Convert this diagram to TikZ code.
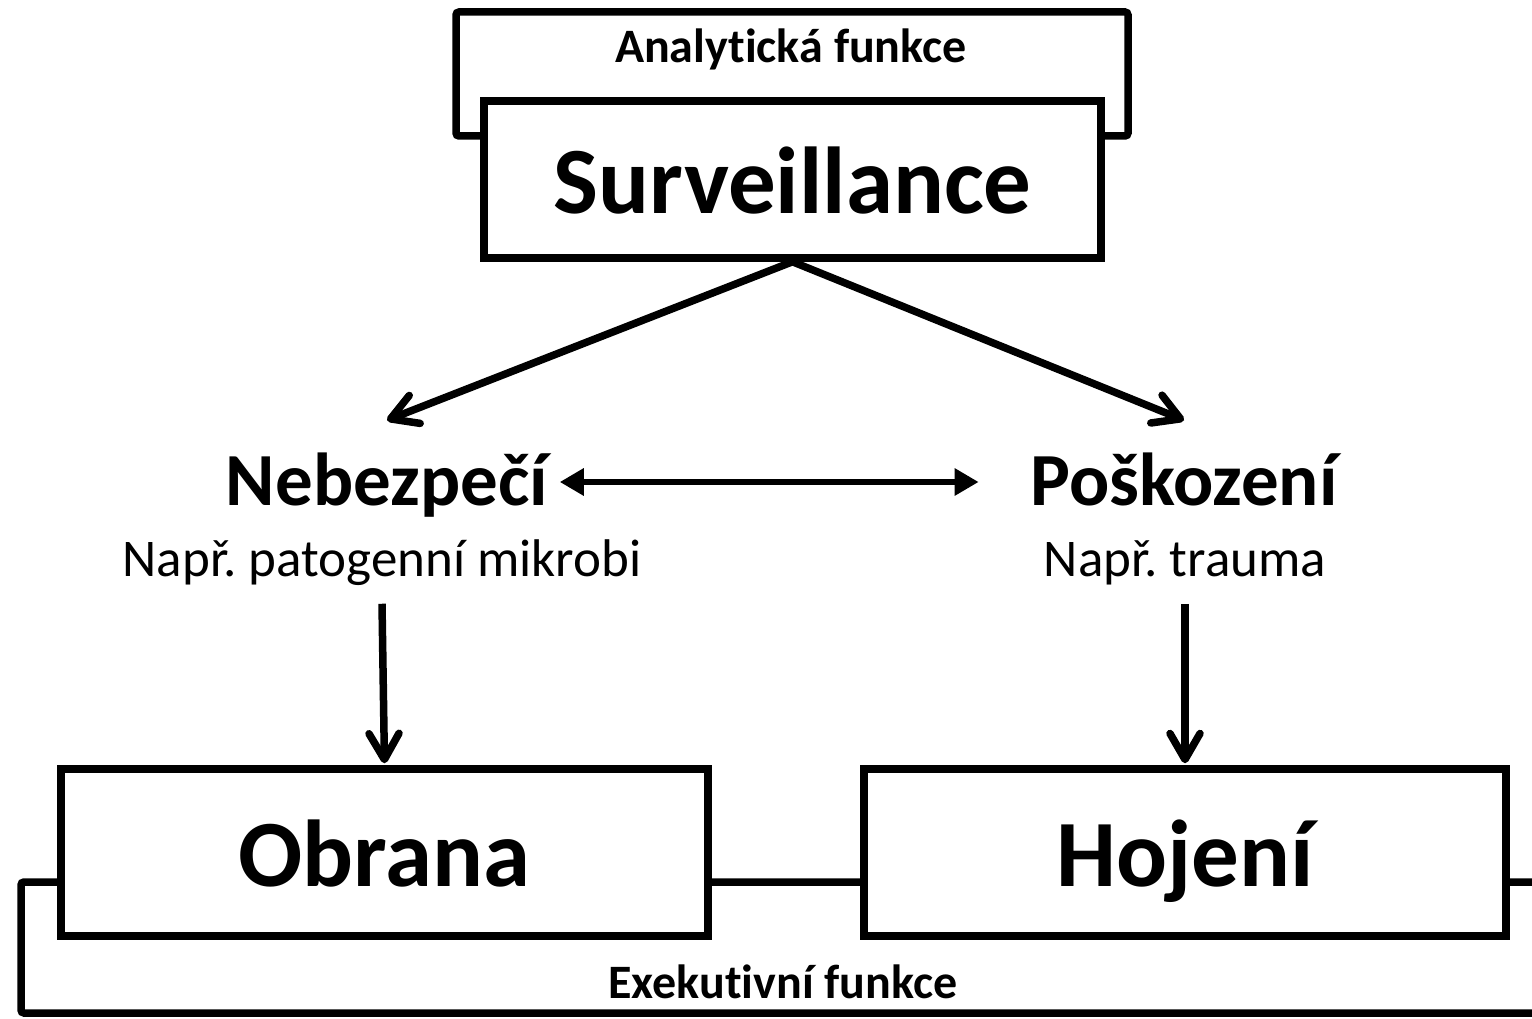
\documentclass[tikz,border=0pt]{standalone}
\usepackage{fontspec}
\setmainfont{Carlito}[Ligatures=NoCommon]
\usetikzlibrary{arrows.meta,positioning}

\begin{document}
\frenchspacing
\begin{tikzpicture}[
  x=1pt, y=-1pt,
  line width=7.5pt,
  frame/.style={rectangle, draw=black, fill=white, rounded corners=3pt,
    inner sep=0pt},
  mainbox/.style={rectangle, draw=black, fill=white, inner sep=0pt,
    text height=80pt, text depth=12pt,
    font=\fontsize{95}{100}\selectfont\bfseries},
  head/.style={inner sep=0pt, text height=81pt, text depth=35pt,
    font=\fontsize{75}{80}\selectfont\bfseries},
  sub/.style={inner sep=0pt, text height=40pt, text depth=24pt,
    font=\fontsize{53}{58}\selectfont},
  caption/.style={inner sep=0pt, font=\fontsize{48}{52}\selectfont\bfseries},
  barb/.style={-{Straight Barb[length=26pt, width=30pt, round]}, line width=7.5pt},
  both/.style={{Triangle[length=24pt, width=26pt]}-{Triangle[length=24pt, width=26pt]}, line width=6.5pt},
]
\useasboundingbox (0,0) rectangle (1532,1019);
\begin{scope}
\clip (0,0) rectangle (1532,1019);
% outer frames
\node[frame, minimum width=672pt, minimum height=124pt] (anal) at (792,74) {};
\node[caption, anchor=base] (analtxt) at (791,63) {Analytická funkce};
\node[frame, minimum width=1529pt, minimum height=131pt] (exek) at (785.5,947.5) {};
\node[caption, anchor=base] (exektxt) at (783,998) {Exekutivní funkce};
\end{scope}

% boxes
\node[mainbox, minimum width=617pt, minimum height=157pt] (surv) at (792.5,179.5) {Surveillance};
\node[mainbox, minimum width=647pt, minimum height=167pt] (obr) at (384.5,852.5) {Obrana};
\node[mainbox, minimum width=642pt, minimum height=167pt] (hoj) at (1185,852.5) {Hojení};

% middle texts
\node[head, anchor=base] (neb) at (387,505) {Nebezpečí};
\node[sub, anchor=base] (nebsub) at (382,576) {Např. patogenní mikrobi};
\node[head, anchor=base] (posk) at (1184,505) {Poškození};
\node[sub, anchor=base] (psksub) at (1185,576) {Např. trauma};

% arrows
\draw[barb] (surv.south) -- (neb.north);
\draw[barb] (surv.south) -- (posk.north);
\draw[both, shorten <=8pt, shorten >=48pt] (neb.east) -- (posk.west);
\draw[barb, shorten >=2pt] (nebsub.south) -- (obr.north);
\draw[barb, shorten >=2pt] (psksub.south) -- (hoj.north);
\end{tikzpicture}
\end{document}
